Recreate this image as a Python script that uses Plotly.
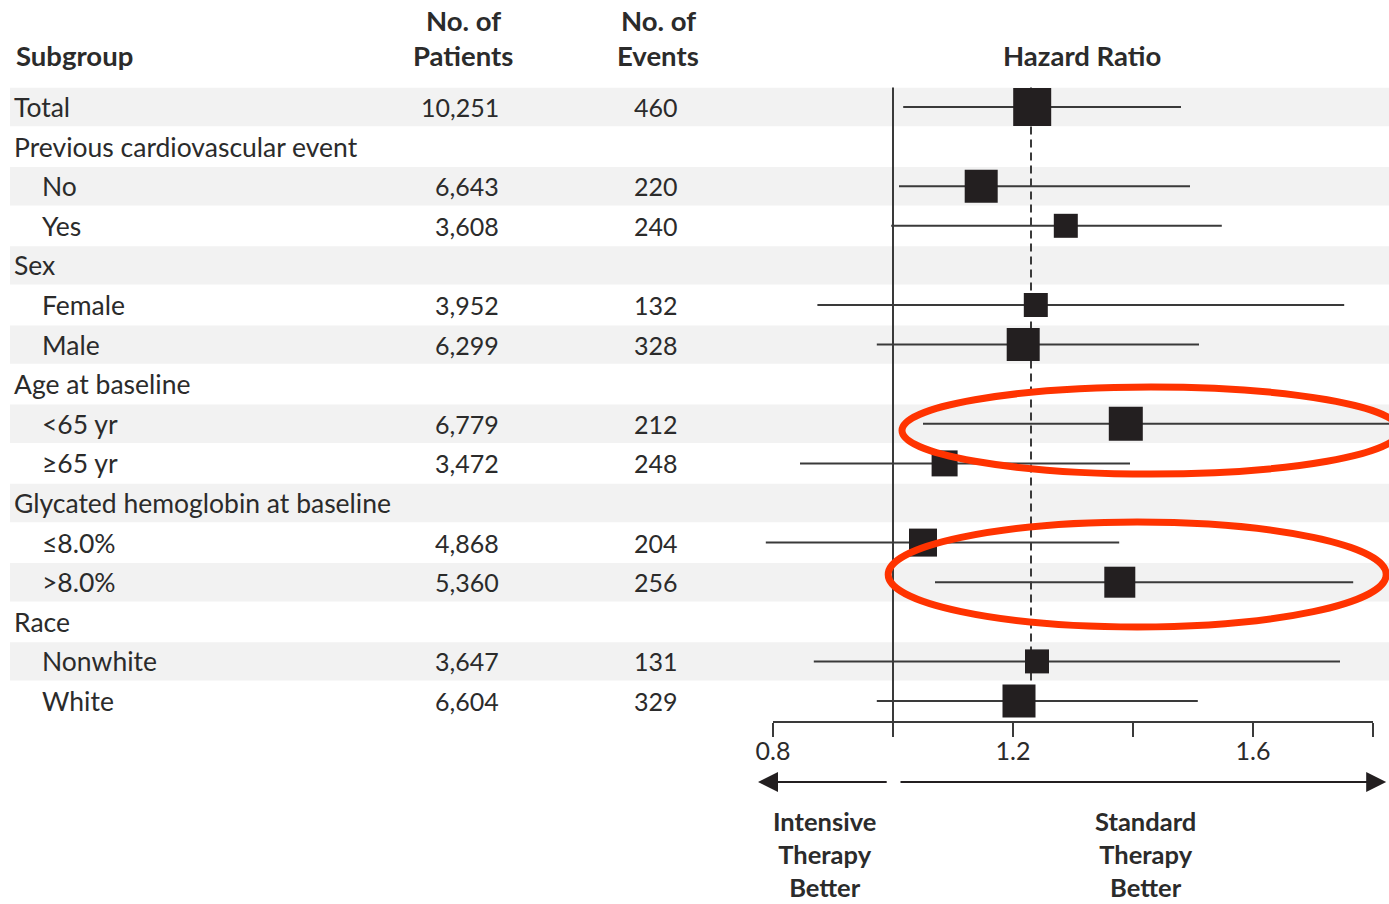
import plotly.graph_objects as go

# ---------------- data ----------------
subgroups = ["Total", "Previous cardiovascular event", "No", "Yes", "Sex", "Female", "Male",
             "Age at baseline", "<65 yr", "≥65 yr", "Glycated hemoglobin at baseline",
             "≤8.0%", ">8.0%", "Race", "Nonwhite", "White"]
is_indented = [False, False, True, True, False, True, True, False, True, True, False,
               True, True, False, True, True]
patients = ["10,251", "", "6,643", "3,608", "", "3,952", "6,299", "", "6,779", "3,472", "",
            "4,868", "5,360", "", "3,647", "6,604"]
events = ["460", "", "220", "240", "", "132", "328", "", "212", "248", "",
          "204", "256", "", "131", "329"]
hr = [1.232, None, 1.147, 1.288, None, 1.238, 1.217, None, 1.388, 1.086, None,
      1.05, 1.378, None, 1.24, 1.21]
ci_low = [1.017, None, 1.01, 0.997, None, 0.874, 0.973, None, 1.05, 0.845, None,
          0.788, 1.07, None, 0.868, 0.973]
ci_high = [1.48, None, 1.495, 1.548, None, 1.752, 1.51, None, 1.84, 1.395, None,
           1.377, 1.767, None, 1.745, 1.508]
overall_hr = 1.23
null_hr = 1.0
tick_vals = [0.8, 1.0, 1.2, 1.4, 1.6, 1.8]
tick_text = ["0.8", "", "1.2", "", "1.6", ""]
highlight_rows = [("<65 yr", 1.015, 1.845), (">8.0%", 0.992, 1.822)]

# ---------------- styles ----------------
marker_px = [38, 0, 33, 24, 0, 24, 33, 0, 34, 26, 0, 28, 31, 0, 24, 33]
FONT = "Lato"
TXT = "#2b2b2b"
INK = "#231f20"
LINE = "#3a3a3a"
BAND = "#f2f2f2"
W, H = 1389, 904
PLOT_BOTTOM = 722
ROW0, ROWSTEP = 107, 39.6
X_LEFT = 0.8 - 773 / 600.0
X_RIGHT = 0.8 + (W - 773) / 600.0
BODY = 26.5
NUM = 25
HEAD = 27.5


def esc(s):
    return s.replace("&", "&amp;").replace("<", "&lt;").replace(">", "&gt;")


def row_of_px(py):
    return (py - ROW0) / ROWSTEP


def paper_y(py):
    return (PLOT_BOTTOM - py) / PLOT_BOTTOM


n = len(subgroups)
rows = list(range(n))

fig = go.Figure()

shapes = []
annotations = []

# alternating background bands
for i in range(0, n, 2):
    shapes.append(dict(type="rect", xref="paper", yref="y", x0=10 / W, x1=1,
                       y0=i - 0.485, y1=i + 0.485, fillcolor=BAND, line_width=0, layer="below"))

# reference lines
shapes.append(dict(type="line", xref="x", yref="y", x0=null_hr, x1=null_hr,
                   y0=-0.49, y1=row_of_px(PLOT_BOTTOM), line=dict(color=LINE, width=2), layer="below"))
shapes.append(dict(type="line", xref="x", yref="y", x0=overall_hr, x1=overall_hr,
                   y0=-0.49, y1=n - 1, line=dict(color=LINE, width=2, dash="8px,5px"), layer="below"))
# axis baseline
shapes.append(dict(type="line", xref="x", yref="paper", x0=tick_vals[0], x1=tick_vals[-1],
                   y0=0, y1=0, line=dict(color=LINE, width=2)))

# CI lines
cx, cy = [], []
for i in rows:
    if hr[i] is None:
        continue
    cx += [ci_low[i], ci_high[i], None]
    cy += [i, i, None]
fig.add_trace(go.Scatter(x=cx, y=cy, mode="lines", line=dict(color=LINE, width=2),
                         hoverinfo="skip", showlegend=False))

# point estimates
px_, py_, ps_ = [], [], []
for i in rows:
    if hr[i] is None:
        continue
    px_.append(hr[i]); py_.append(i); ps_.append(marker_px[i])
fig.add_trace(go.Scatter(x=px_, y=py_, mode="markers",
                         marker=dict(symbol="square", size=ps_, color=INK, opacity=1,
                                     line=dict(width=0)),
                         showlegend=False))

# text columns
for i in rows:
    xpx = 40 if is_indented[i] else 12
    annotations.append(dict(x=xpx / W, xref="paper", y=i, yref="y", text=esc(subgroups[i]),
                            xanchor="left", yanchor="middle", showarrow=False,
                            font=dict(size=BODY, color=TXT, family=FONT)))
    if patients[i]:
        annotations.append(dict(x=501 / W, xref="paper", y=i, yref="y", text=patients[i],
                                xanchor="right", yanchor="middle", showarrow=False,
                                font=dict(size=NUM, color=TXT, family=FONT)))
    if events[i]:
        annotations.append(dict(x=680 / W, xref="paper", y=i, yref="y", text=events[i],
                                xanchor="right", yanchor="middle", showarrow=False,
                                font=dict(size=NUM, color=TXT, family=FONT)))

# headers
HFONT = dict(size=HEAD, color=TXT, family=FONT)
annotations.append(dict(x=14 / W, xref="paper", y=row_of_px(55), yref="y", text="<b>Subgroup</b>",
                        xanchor="left", yanchor="middle", showarrow=False, font=HFONT))
for cxp, l1, l2 in [(463, "No. of", "Patients"), (658, "No. of", "Events")]:
    annotations.append(dict(x=cxp / W, xref="paper", y=row_of_px(20), yref="y", text=f"<b>{l1}</b>",
                            xanchor="center", yanchor="middle", showarrow=False, font=HFONT))
    annotations.append(dict(x=cxp / W, xref="paper", y=row_of_px(55), yref="y", text=f"<b>{l2}</b>",
                            xanchor="center", yanchor="middle", showarrow=False, font=HFONT))
annotations.append(dict(x=1.315, xref="x", y=row_of_px(55), yref="y", text="<b>Hazard Ratio</b>",
                        xanchor="center", yanchor="middle", showarrow=False, font=HFONT))

# direction arrows
annotations.append(dict(x=0.775, y=paper_y(782), xref="x", yref="paper", ax=0.992, ay=0,
                        axref="x", ayref="pixel", text="", showarrow=True, arrowhead=2,
                        arrowsize=2, arrowwidth=2, arrowcolor=INK))
annotations.append(dict(x=1.822, y=paper_y(782), xref="x", yref="paper", ax=1.01, ay=0,
                        axref="x", ayref="pixel", text="", showarrow=True, arrowhead=2,
                        arrowsize=2, arrowwidth=2, arrowcolor=INK))
for xc, label in [(0.885, "Intensive<br>Therapy<br>Better"), (1.42, "Standard<br>Therapy<br>Better")]:
    annotations.append(dict(x=xc, y=paper_y(854), xref="x", yref="paper",
                            text=f"<b>{label}</b>", showarrow=False,
                            xanchor="center", yanchor="middle", align="center",
                            font=dict(size=25.5, color=TXT, family=FONT)))

# highlight ellipses
ell_y = {"<65 yr": (row_of_px(387), row_of_px(474)), ">8.0%": (row_of_px(522), row_of_px(627))}
for name, x0, x1 in highlight_rows:
    y0, y1 = ell_y[name]
    shapes.append(dict(type="circle", xref="x", yref="y", x0=x0, x1=x1, y0=y0, y1=y1,
                       line=dict(color="#ff3300", width=7), layer="above"))

fig.update_layout(
    width=W, height=H,
    margin=dict(l=0, r=0, t=0, b=H - PLOT_BOTTOM, pad=0),
    paper_bgcolor="white", plot_bgcolor="white",
    xaxis=dict(range=[X_LEFT, X_RIGHT], showgrid=False, zeroline=False, showline=False,
               tickmode="array", tickvals=tick_vals, ticktext=tick_text,
               ticks="outside", ticklen=14, tickwidth=2, tickcolor=LINE,
               ticklabelstandoff=-7,
               tickfont=dict(size=25, color=TXT, family=FONT), fixedrange=True),
    yaxis=dict(range=[row_of_px(PLOT_BOTTOM), row_of_px(0)], showgrid=False, zeroline=False,
               showline=False, showticklabels=False, ticks="", fixedrange=True),
    shapes=shapes, annotations=annotations,
    font=dict(family=FONT, color=TXT),
)

fig.write_html("out.html", config={"displayModeBar": False},
               post_script="document.body.style.margin='0';document.body.style.overflow='hidden';")
